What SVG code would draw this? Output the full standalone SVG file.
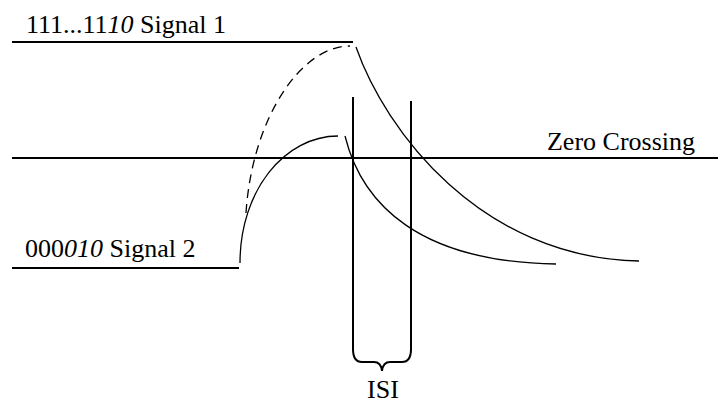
<svg xmlns="http://www.w3.org/2000/svg" width="718" height="403" viewBox="0 0 718 403">
<style>
.axis{stroke:#000;stroke-width:2;fill:none}
.curve{stroke:#000;stroke-width:1.3;fill:none}
.dash{stroke:#000;stroke-width:1.3;fill:none;stroke-dasharray:9 6}
.lbl{font-size:26px;fill:#000}
</style>
<rect width="718" height="403" fill="#fff"/>
<g id="signal1">
<line class="axis" x1="12" y1="42" x2="353" y2="42"/>
<text class="lbl" font-family="Liberation Serif, DejaVu Serif, serif" x="26" y="33">111...11<tspan font-style="italic">10</tspan> Signal 1</text>
</g>
<g id="signal2">
<line class="axis" x1="12" y1="268" x2="239" y2="268"/>
<text class="lbl" font-family="Liberation Serif, DejaVu Serif, serif" x="25" y="257">000<tspan font-style="italic">010</tspan> Signal 2</text>
</g>
<g id="zero-crossing">
<line class="axis" x1="12" y1="158" x2="718" y2="158"/>
<text class="lbl" font-family="Liberation Serif, DejaVu Serif, serif" font-size="26.5" x="695" y="150" text-anchor="end">Zero Crossing</text>
</g>
<g id="isi">
<line class="axis" x1="353" y1="97" x2="353" y2="350"/>
<line class="axis" x1="411" y1="101" x2="411" y2="350"/>
<path class="axis" d="M353,349 Q353,362 362,362 L374,362 Q381,362 382,371 Q383,362 390,362 L402,362 Q411,362 411,349"/>
<text class="lbl" font-family="Liberation Serif, DejaVu Serif, serif" x="383" y="398" text-anchor="middle">ISI</text>
</g>
<g id="connectors">
<path class="dash" d="M246,213 C252,120 300,46 350,46"/>
<path class="curve" d="M240,263 C240,190 285,136 338,136"/>
<path class="curve" d="M356,47 C385,130 480,258 639,261"/>
<path class="curve" d="M345,136 C362,205 420,262 556,264"/>
</g>
</svg>
